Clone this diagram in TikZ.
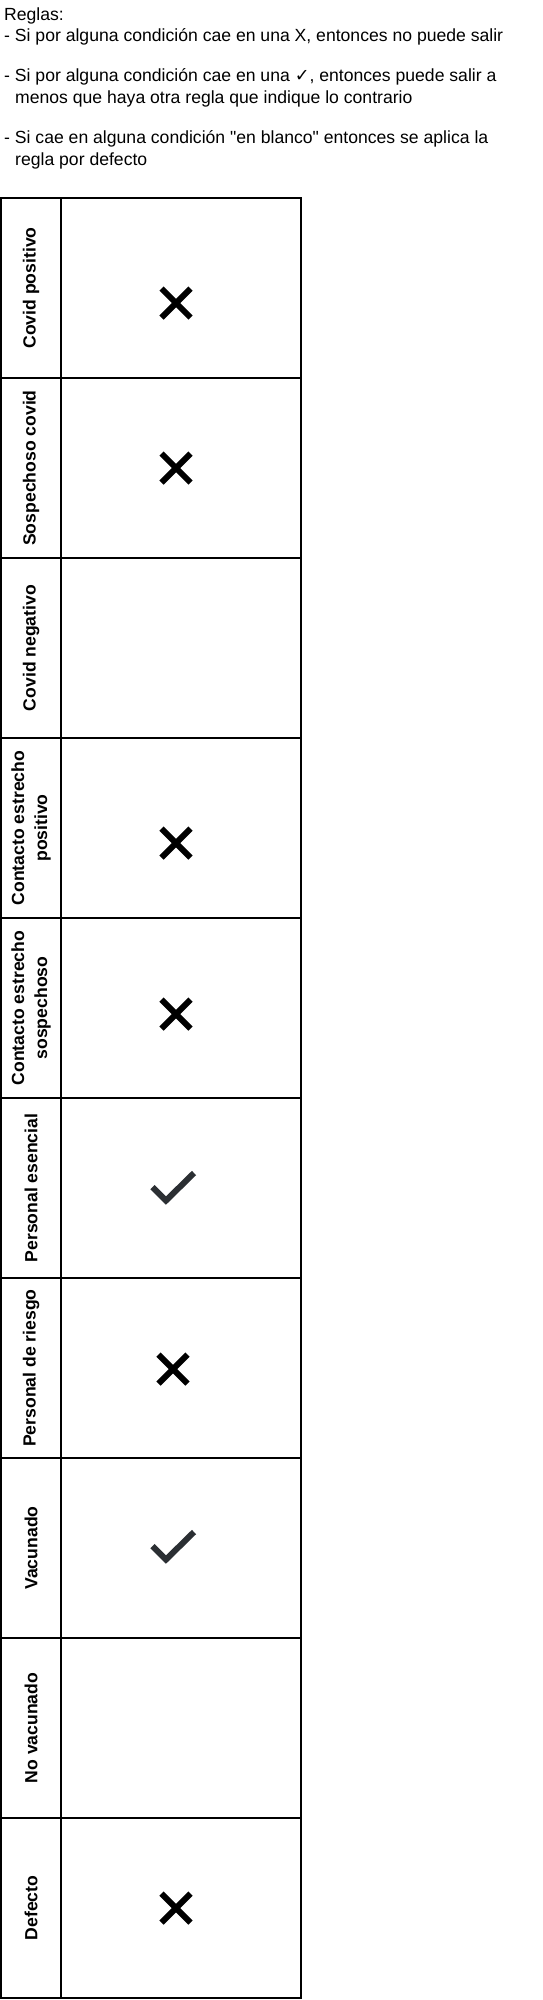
\documentclass[tikz,border=0pt]{standalone}
\usepackage{fontspec}
\setmainfont{Liberation Sans}
\newfontfamily\symfont{DejaVu Sans}
\usetikzlibrary{calc}
\definecolor{tickgray}{RGB}{43,47,51}
\tikzset{
	rulestext/.style={anchor=base west, inner sep=0pt, font=\fontsize{17.6}{21.7}\selectfont},
	labelcell/.style={draw, line width=2pt, rotate=90, minimum width=180pt, minimum height=60pt,
		inner sep=0pt, align=center, font=\fontsize{17.6}{23}\selectfont\bfseries},
	markcell/.style={draw, line width=2pt, minimum width=240pt, minimum height=180pt, inner sep=0pt},
	crossmark/.pic={
		\draw[line width=6pt] (-14.5, -14.5) -- (14.5, 14.5);
		\draw[line width=6pt] (-14.5, 14.5) -- (14.5, -14.5);
	},
	tickmark/.pic={
		\draw[line width=6pt, color=tickgray, line join=miter] (-20.5, -1) -- (-7, 12.5) -- (21, -15);
	}
}

\begin{document}
\begin{tikzpicture}[x=1pt, y=-1pt]
		%%%%% START %%%%%
		\useasboundingbox (0, 0) rectangle (543, 2000);
		
		\node[rulestext] (rule1) at (4, 20) {Reglas:};
		\node[rulestext] (rule2) at (4, 41.7) {- Si por alguna condición cae en una X, entonces no puede salir};
		\node[rulestext] (rule3) at (4, 81.7) {- Si por alguna condición cae en una {\symfont ✓}, entonces puede salir a};
		\node[rulestext] (rule4) at (15, 103.3) {menos que haya otra regla que indique lo contrario};
		\node[rulestext] (rule5) at (4, 143.3) {- Si cae en alguna condición \textquotedbl en blanco\textquotedbl{} entonces se aplica la};
		\node[rulestext] (rule6) at (15, 165) {regla por defecto};
		
		\foreach \lab [count=\i] in {Covid positivo, Sospechoso covid, Covid negativo,
			{Contacto estrecho\\positivo}, {Contacto estrecho\\sospechoso}, Personal esencial,
			Personal de riesgo, Vacunado, No vacunado, Defecto} {
			\node[labelcell] (lab\i) at (31, {108+180*\i}) {\lab};
			\node[markcell] (cell\i) at (181, {108+180*\i}) {};
		}
		
		\pic at ($(cell1.center)+(-5, 15)$) {crossmark};
		\pic at ($(cell2.center)+(-5, 0)$) {crossmark};
		\pic at ($(cell4.center)+(-5, 15)$) {crossmark};
		\pic at ($(cell5.center)+(-5, 6)$) {crossmark};
		\pic at ($(cell6.center)+(-8, 0)$) {tickmark};
		\pic at ($(cell7.center)+(-8, 1)$) {crossmark};
		\pic at ($(cell8.center)+(-8, -1)$) {tickmark};
		\pic at ($(cell10.center)+(-5, 0)$) {crossmark};
		
		%%%%% END %%%%%
	\end{tikzpicture}
\end{document}
